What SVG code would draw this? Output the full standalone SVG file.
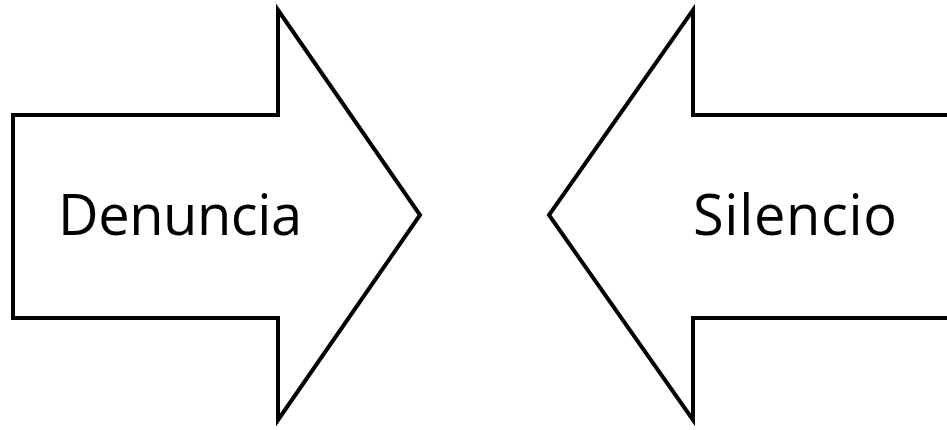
<svg xmlns="http://www.w3.org/2000/svg" width="947" height="430" viewBox="0 0 947 430">
<style>
.arrow{fill:#fff;stroke:#000;stroke-width:4;stroke-linejoin:miter}
.lbl{font-family:"Open Sans","Liberation Sans",sans-serif;font-size:56px;fill:#000}
</style>
<rect width="947" height="430" fill="#fff"/>
<g id="denuncia">
<polygon class="arrow" points="13,115 278,115 278,10 420,215 278,420 278,318 13,318"/>
<text class="lbl" x="58" y="235" textLength="244">Denuncia</text>
</g>
<g id="silencio">
<polygon class="arrow" points="960,115 693,115 693,10 549,215 693,420 693,318 960,318"/>
<text class="lbl" x="693" y="235" textLength="204">Silencio</text>
</g>
<g id="connectors"/>
</svg>
